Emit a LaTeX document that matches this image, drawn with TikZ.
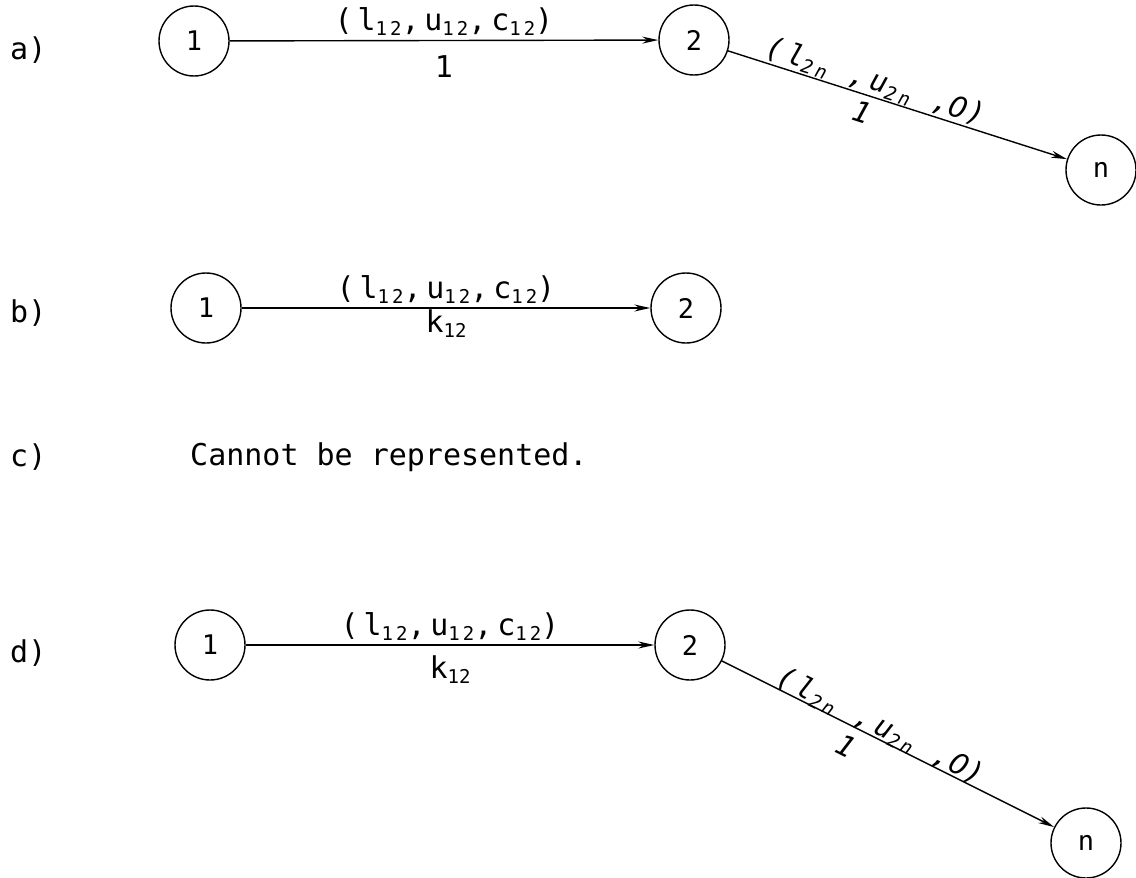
\documentclass[tikz,border=0pt]{standalone}
\usepackage{fontspec}
\setmainfont{DejaVu Sans Mono}
\newfontfamily\spaced[LetterSpace=16]{DejaVu Sans Mono}
\newfontfamily\plainzero{DejaVu Sans}
\usetikzlibrary{arrows.meta}
% lowered small characters used as indices in the arc labels
\newcommand{\ix}[1]{\raisebox{-0.3ex}{\fontsize{19}{19}\selectfont #1}}
\begin{document}
\begin{tikzpicture}[x=1pt,y=-1pt,
  vertex/.style={draw, circle, minimum size=70pt, inner sep=0pt, line width=1.4pt,
                 font=\fontsize{27}{27}\selectfont},
  arc/.style={draw, line width=1.4pt, -{Stealth[length=16pt,width=7pt]}},
  tag/.style={anchor=west, inner sep=0pt, font=\fontsize{30}{30}\selectfont},
  triple/.style={inner sep=4pt, font=\spaced\fontsize{30}{30}\selectfont},
  mult/.style={inner sep=4pt, font=\fontsize{30}{30}\selectfont},
  slanted/.style={inner sep=3pt, font=\itshape\spaced\fontsize{29}{29}\selectfont}]
\useasboundingbox (0,0) rectangle (1136,878);

% ---- a) ----
\node[tag] (ta) at (10,50) {a)};
\node[vertex] (a1) at (194,41) {1};
\node[vertex] (a2) at (694,40) {2};
\node[vertex] (an) at (1101,170) {n};
\draw[arc] (a1) -- (a2)
  node[triple, midway, above] (a12t) {(l\ix{12},u\ix{12},c\ix{12})}
  node[mult, midway, below, yshift=-10pt] (a12b) {1};
\draw[arc] (a2) -- (an)
  node[slanted, pos=0.42, above, sloped, yshift=-2pt] (a2nt) {(l\ix{2n} ,u\ix{2n} ,{\plainzero\itshape 0})}
  node[slanted, pos=0.41, below, sloped, yshift=-3pt] (a2nb) {1};

% ---- b) ----
\node[tag] (tb) at (10,313) {b)};
\node[vertex] (b1) at (206,308) {1};
\node[vertex] (b2) at (686,308) {2};
\draw[arc] (b1) -- (b2)
  node[triple, midway, above] (b12t) {(l\ix{12},u\ix{12},c\ix{12})}
  node[mult, midway, below, inner sep=1pt] (b12b) {k\ix{12}};

% ---- c) ----
\node[tag] (tc) at (10,457) {c)};
\node[tag] (cnote) at (190,457) {Cannot be represented.};

% ---- d) ----
\node[tag] (td) at (10,653) {d)};
\node[vertex] (d1) at (210,645) {1};
\node[vertex] (d2) at (690,645) {2};
\node[vertex] (dn) at (1086,843) {n};
\draw[arc] (d1) -- (d2)
  node[triple, midway, above] (d12t) {(l\ix{12},u\ix{12},c\ix{12})}
  node[mult, midway, below, yshift=-6pt] (d12b) {k\ix{12}};
\draw[arc] (d2) -- (dn)
  node[slanted, pos=0.46, above, sloped, yshift=-5pt] (d2nt) {(l\ix{2n} ,u\ix{2n} ,{\plainzero\itshape 0})}
  node[slanted, pos=0.40, below, sloped, yshift=-6pt] (d2nb) {1};
\end{tikzpicture}
\end{document}
